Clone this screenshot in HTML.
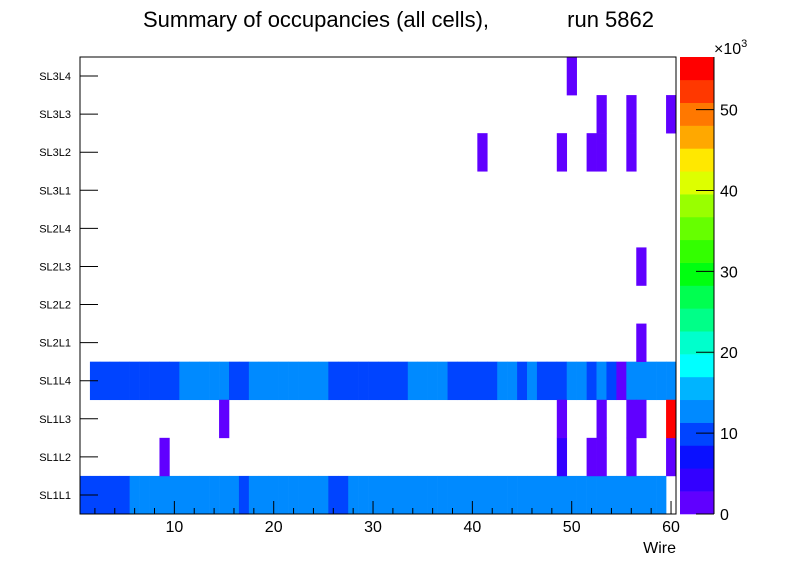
<!DOCTYPE html>
<html><head><meta charset="utf-8"><style>
html,body{margin:0;padding:0;background:#fff}
svg{display:block;font-family:"Liberation Sans",Arial,sans-serif}
</style></head><body>
<svg id="chart" width="796" height="572" viewBox="0 0 796 572" xmlns="http://www.w3.org/2000/svg">
<rect x="0" y="0" width="796" height="572" fill="#fff"/>
<text x="143" y="27" font-size="22">Summary of occupancies (all cells),</text>
<text x="654" y="27" font-size="22" text-anchor="end">run 5862</text>
<g id="cells"></g>
<g id="axes"></g>
<g id="palette"></g>
</svg>
<script>
// ---- data ----
const layers = ["SL1L1","SL1L2","SL1L3","SL1L4","SL2L1","SL2L2","SL2L3","SL2L4","SL3L1","SL3L2","SL3L3","SL3L4"];
const xTicks = [10,20,30,40,50,60];
const zTicks = [0,10,20,30,40,50];
// dense rows: occupancy per wire 1..60
const rowSL1L1 = [10000,10000,10000,10000,10000,13000,13000,13000,13000,13000,13000,13000,13000,13000,13000,13000,10000,13000,13000,13000,13000,13000,13000,13000,13000,10000,10000,13000,13000,13000,13000,13000,13000,13000,13000,13000,13000,13000,13000,13000,13000,13000,13000,13000,13000,13000,13000,13000,13000,13000,13000,13000,13000,13000,13000,13000,13000,13000,13000,0];
const rowSL1L4 = [0,10000,10000,10000,10000,10000,10000,10000,10000,10000,13000,13000,13000,13000,13000,10000,10000,13000,13000,13000,13000,13000,13000,13000,13000,10000,10000,10000,10000,10000,10000,10000,10000,13000,13000,13000,13000,10000,10000,10000,10000,10000,13000,13000,10000,13000,10000,10000,10000,13000,13000,10000,13000,10000,1000,13000,13000,13000,13000,13000];
// sparse cells: wire, layer index, value
const sparseWire  = [9,49,52,53,56,60, 15,49,53,56,57,60, 57, 57, 41,49,52,53,56, 53,56,60, 50];
const sparseLayer = [1,1,1,1,1,1,      2,2,2,2,2,2,       4,  6,  9,9,9,9,9,      10,10,10,  11];
const sparseValue = [1000,4000,1000,1000,1000,1000, 1000,1000,1000,1000,1000,56000, 1000, 1000, 1000,1000,1000,1000,1000, 1000,1000,1000, 1000];
const paletteColors = ["#6000ff","#3300ff","#0a10ff","#0044ff","#008aff","#00b4ff","#00ffff","#00ffcc","#00ff88","#00ff50","#00ff10","#33ff00","#66ff00","#99ff00","#ddff00","#ffe800","#ffa800","#ff7800","#ff3800","#ff0000"];

const X0=80,X1=676,Y0=57,Y1=514,XMIN=0.5,XMAX=60.5,ZMAX=56500;
const NS="http://www.w3.org/2000/svg";
function xs(v){return X0+(v-XMIN)/(XMAX-XMIN)*(X1-X0);}
function ys(i){return Y1-i*(Y1-Y0)/layers.length;}
function zs(z){return Y1-z/ZMAX*(Y1-Y0);}
function color(z){let k=Math.floor(z/ZMAX*paletteColors.length);return paletteColors[Math.max(0,Math.min(paletteColors.length-1,k))];}
function mk(tag,attrs,parent){const e=document.createElementNS(NS,tag);for(const k in attrs)e.setAttribute(k,attrs[k]);parent.appendChild(e);return e;}
const cells=document.getElementById('cells'),axes=document.getElementById('axes'),pal=document.getElementById('palette');
function cell(w,li,v){
  if(v<=0)return;
  const r=mk('rect',{x:xs(w-0.5),y:ys(li+1),width:xs(w+0.5)-xs(w-0.5)+0.3,height:ys(li)-ys(li+1)+0.3,fill:color(v)},cells);
  
  
}
rowSL1L1.forEach((v,i)=>cell(i+1,0,v));
rowSL1L4.forEach((v,i)=>cell(i+1,3,v));
sparseWire.forEach((w,i)=>cell(w,sparseLayer[i],sparseValue[i]));

// frame
const fr=mk('rect',{x:X0,y:Y0,width:X1-X0,height:Y1-Y0,fill:'none',stroke:'#000','stroke-width':1},axes);


// x ticks
for(let v=2;v<=60;v+=2){
  const major=v%10===0;
  mk('line',{x1:xs(v),x2:xs(v),y1:Y1,y2:Y1-(major?13:6),stroke:'#000','stroke-width':1},axes);
}
xTicks.forEach(v=>{
  const t=mk('text',{x:xs(v),y:532,'font-size':16,'text-anchor':'middle'},axes);
  t.textContent=v;
  
  
});
const xt=mk('text',{x:676,y:553,'font-size':16,'text-anchor':'end'},axes);
xt.textContent='Wire';


// y ticks
layers.forEach((n,i)=>{
  const yc=(ys(i)+ys(i+1))/2;
  mk('line',{x1:X0,x2:X0+18,y1:yc,y2:yc,stroke:'#000','stroke-width':1},axes);
  const t=mk('text',{x:71,y:yc+4,'font-size':11,'text-anchor':'end'},axes);
  t.textContent=n;
  
  
});
// palette
const PX0=680,PX1=714;
paletteColors.forEach((c,k)=>{
  const zlo=k*ZMAX/paletteColors.length,zhi=(k+1)*ZMAX/paletteColors.length;
  const r=mk('rect',{x:PX0,y:zs(zhi),width:PX1-PX0,height:zs(zlo)-zs(zhi)+0.3,fill:c},pal);
  
  
});
mk('line',{x1:PX1,x2:PX1,y1:Y0,y2:Y1,stroke:'#000','stroke-width':1},pal);
zTicks.forEach(v=>{
  const y=zs(v*1000);
  mk('line',{x1:PX1-18,x2:PX1,y1:y,y2:y,stroke:'#000','stroke-width':1},pal);
  const t=mk('text',{x:720,y:y+6,'font-size':16},pal);
  t.textContent=v;
  
  
});
const ex=mk('text',{x:714,y:54,'font-size':16},pal);
ex.innerHTML='×10<tspan dy="-7" font-size="11">3</tspan>';


</script>
</body></html>
